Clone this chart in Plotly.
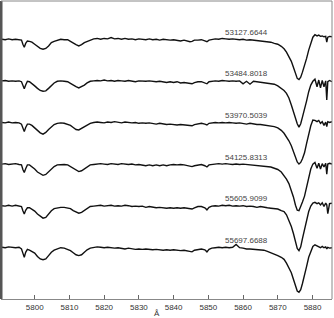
import plotly.graph_objects as go

wavelength = [
    5790.6, 5791.5, 5792.5, 5793.5, 5794.5, 5795.5, 5796.2, 5796.6, 5797.0, 5797.4,
    5797.9, 5798.5, 5799.2, 5800.0, 5800.8, 5801.6, 5802.4, 5803.2, 5804.0, 5804.8,
    5805.6, 5806.5, 5807.5, 5808.5, 5809.5, 5810.3, 5811.1, 5811.9, 5812.7, 5813.5,
    5814.3, 5815.1, 5816.0, 5817.0, 5818.0, 5819.0, 5820.0, 5821.0, 5822.0, 5823.0,
    5824.0, 5825.0, 5826.0, 5827.0, 5828.0, 5829.0, 5830.0, 5831.0, 5832.0, 5833.0,
    5834.0, 5835.0, 5836.0, 5837.0, 5838.0, 5839.0, 5840.0, 5841.0, 5842.0, 5843.0,
    5844.0, 5844.7, 5845.3, 5846.0, 5847.0, 5848.0, 5849.0, 5849.6, 5850.2, 5851.0,
    5852.0, 5853.0, 5854.0, 5855.0, 5856.0, 5857.0, 5858.0, 5859.0, 5860.0, 5861.0,
    5862.0, 5863.0, 5864.0, 5865.0, 5866.0, 5867.0, 5868.0, 5869.0, 5870.0, 5871.0,
    5871.8, 5872.5, 5873.2, 5873.9, 5874.5, 5875.1, 5875.6, 5876.1, 5876.6, 5877.1,
    5877.7, 5878.3, 5878.9, 5879.5, 5880.1, 5880.7, 5881.3, 5881.8, 5882.3, 5882.8,
    5883.3, 5883.8, 5884.1, 5884.4, 5884.9, 5885.6,
]

epochs = ["53127.6644", "53484.8018", "53970.5039", "54125.8313", "55605.9099", "55697.6688"]
offsets = [0.0, -0.1, -0.2, -0.3, -0.4, -0.5]

flux_53127 = [
    1.000, 0.999, 1.001, 0.999, 1.000, 0.999, 0.998, 0.988, 0.981, 0.990,
    0.996, 0.995, 0.993, 0.988, 0.983, 0.978, 0.976, 0.978, 0.984, 0.992,
    0.995, 0.998, 1.000, 0.999, 0.999, 0.995, 0.990, 0.987, 0.984, 0.987,
    0.992, 0.995, 0.999, 1.001, 1.002, 1.000, 1.002, 1.001, 1.004, 1.001,
    1.002, 1.000, 1.002, 1.000, 1.001, 0.999, 1.001, 1.000, 0.999, 1.001,
    0.999, 1.000, 0.998, 1.000, 0.999, 0.998, 0.999, 0.998, 0.996, 0.998,
    0.995, 0.994, 0.995, 0.998, 0.998, 0.999, 0.996, 0.994, 0.998, 1.000,
    1.001, 1.000, 1.002, 1.001, 1.000, 1.001, 1.000, 0.999, 1.000, 0.998,
    0.999, 0.998, 0.996, 0.996, 0.995, 0.994, 0.993, 0.990, 0.988, 0.983,
    0.977, 0.969, 0.959, 0.947, 0.933, 0.916, 0.906, 0.903, 0.909, 0.921,
    0.935, 0.954, 0.974, 0.990, 1.005, 1.011, 1.008, 1.010, 1.007, 1.008,
    1.006, 1.007, 0.993, 1.005, 1.007, 1.006,
]
flux_53484 = [
    1.000, 1.001, 0.999, 1.000, 0.999, 1.000, 0.998, 0.988, 0.981, 0.990,
    0.999, 0.998, 0.994, 0.988, 0.982, 0.977, 0.975, 0.976, 0.982, 0.989,
    0.995, 0.999, 1.000, 0.999, 0.998, 0.994, 0.989, 0.986, 0.983, 0.986,
    0.990, 0.995, 0.999, 1.000, 1.001, 1.000, 1.002, 1.000, 1.001, 0.999,
    1.001, 1.000, 0.999, 1.001, 1.000, 0.998, 1.000, 0.999, 0.999, 1.000,
    0.999, 0.998, 0.999, 0.998, 0.996, 0.998, 0.996, 0.998, 0.995, 0.996,
    0.995, 0.994, 0.993, 0.996, 0.998, 0.998, 0.995, 0.993, 0.998, 0.999,
    1.000, 0.999, 1.001, 1.000, 0.999, 1.000, 0.999, 1.000, 0.993, 0.999,
    0.992, 0.999, 0.998, 0.996, 0.996, 0.995, 0.994, 0.992, 0.988, 0.983,
    0.977, 0.970, 0.959, 0.942, 0.925, 0.909, 0.897, 0.889, 0.897, 0.913,
    0.930, 0.952, 0.974, 0.990, 0.999, 1.004, 0.986, 1.002, 0.983, 1.001,
    0.986, 1.000, 0.954, 0.998, 1.001, 0.998,
]
flux_53970 = [
    1.000, 0.999, 1.001, 0.999, 1.000, 0.999, 0.996, 0.986, 0.978, 0.988,
    0.996, 0.996, 0.993, 0.987, 0.981, 0.975, 0.972, 0.976, 0.983, 0.990,
    0.995, 0.998, 0.999, 0.998, 0.996, 0.993, 0.988, 0.983, 0.982, 0.986,
    0.990, 0.995, 0.998, 1.000, 1.001, 1.000, 0.999, 1.001, 1.000, 1.002,
    1.000, 0.999, 1.001, 1.000, 0.999, 1.000, 0.998, 0.999, 0.998, 0.999,
    0.998, 0.996, 0.998, 0.996, 0.995, 0.996, 0.995, 0.994, 0.995, 0.994,
    0.993, 0.993, 0.992, 0.995, 0.996, 0.998, 0.996, 0.994, 0.998, 0.999,
    1.000, 0.999, 1.000, 0.999, 1.000, 0.999, 0.998, 0.999, 0.998, 0.996,
    0.998, 0.996, 0.995, 0.995, 0.994, 0.993, 0.992, 0.990, 0.987, 0.981,
    0.974, 0.966, 0.956, 0.944, 0.930, 0.916, 0.905, 0.900, 0.904, 0.913,
    0.927, 0.950, 0.974, 0.992, 1.006, 1.005, 1.002, 1.005, 0.998, 1.002,
    0.993, 1.001, 0.990, 1.002, 1.000, 1.002,
]
flux_54125 = [
    1.000, 1.001, 0.999, 1.000, 1.001, 0.999, 0.998, 0.987, 0.980, 0.989,
    0.998, 0.998, 0.994, 0.988, 0.981, 0.976, 0.973, 0.975, 0.981, 0.988,
    0.994, 0.998, 0.999, 0.999, 0.998, 0.994, 0.989, 0.984, 0.982, 0.984,
    0.989, 0.994, 0.998, 0.999, 1.000, 1.001, 1.000, 0.999, 1.001, 1.000,
    0.999, 1.001, 1.000, 0.999, 1.000, 0.998, 0.999, 0.998, 0.996, 0.998,
    0.996, 0.998, 0.996, 0.998, 0.996, 0.998, 0.999, 0.998, 0.999, 0.998,
    0.996, 0.995, 0.994, 0.996, 0.998, 0.999, 0.996, 0.993, 0.998, 0.999,
    1.000, 1.001, 1.000, 1.001, 1.000, 0.999, 1.000, 0.999, 1.000, 0.999,
    0.998, 0.998, 0.996, 0.996, 0.995, 0.994, 0.993, 0.990, 0.987, 0.981,
    0.972, 0.964, 0.953, 0.938, 0.921, 0.901, 0.889, 0.888, 0.897, 0.909,
    0.923, 0.945, 0.968, 0.988, 1.000, 1.004, 0.990, 1.002, 0.988, 1.001,
    0.993, 1.002, 0.976, 1.000, 1.002, 1.000,
]
flux_55605 = [
    1.000, 0.999, 1.001, 0.999, 1.001, 0.999, 0.998, 0.988, 0.980, 0.989,
    0.995, 0.995, 0.992, 0.987, 0.980, 0.974, 0.970, 0.972, 0.980, 0.988,
    0.993, 0.995, 0.996, 0.996, 0.995, 0.993, 0.988, 0.984, 0.982, 0.984,
    0.989, 0.994, 0.998, 0.999, 1.000, 1.001, 0.999, 1.000, 1.001, 0.999,
    1.000, 0.999, 1.001, 1.000, 0.998, 0.999, 0.998, 0.999, 0.996, 0.998,
    0.996, 0.995, 0.996, 0.995, 0.994, 0.995, 0.994, 0.995, 0.994, 0.995,
    0.994, 0.993, 0.992, 0.995, 0.998, 0.998, 0.995, 0.990, 0.996, 0.999,
    1.000, 0.999, 1.001, 1.000, 1.001, 0.999, 1.000, 0.999, 1.000, 0.998,
    0.999, 0.998, 0.996, 0.998, 0.996, 0.995, 0.994, 0.993, 0.992, 0.988,
    0.986, 0.978, 0.965, 0.950, 0.933, 0.911, 0.897, 0.892, 0.901, 0.921,
    0.942, 0.966, 0.986, 0.999, 1.006, 1.008, 1.005, 1.007, 1.002, 1.007,
    0.998, 1.006, 1.002, 0.981, 1.005, 1.006,
]
flux_55697 = [
    1.000, 0.999, 1.001, 1.000, 0.999, 1.000, 0.996, 0.986, 0.976, 0.988,
    0.995, 0.993, 0.990, 0.986, 0.978, 0.972, 0.970, 0.972, 0.980, 0.988,
    0.993, 0.996, 0.999, 0.998, 0.995, 0.992, 0.987, 0.982, 0.980, 0.982,
    0.988, 0.994, 0.998, 1.000, 1.001, 1.000, 0.999, 1.000, 0.999, 0.998,
    0.999, 0.998, 0.996, 0.998, 0.996, 0.995, 0.996, 0.995, 0.996, 0.995,
    0.994, 0.995, 0.994, 0.993, 0.994, 0.993, 0.994, 0.993, 0.992, 0.993,
    0.992, 0.990, 0.989, 0.993, 0.995, 0.996, 0.994, 0.989, 0.995, 0.998,
    0.999, 1.000, 0.999, 1.000, 0.999, 1.000, 1.007, 0.999, 0.998, 0.996,
    0.996, 0.995, 0.995, 0.994, 0.993, 0.990, 0.987, 0.983, 0.980, 0.976,
    0.971, 0.962, 0.952, 0.939, 0.923, 0.906, 0.895, 0.892, 0.898, 0.913,
    0.931, 0.954, 0.976, 0.992, 1.002, 1.006, 1.004, 1.001, 0.999, 1.002,
    0.999, 1.001, 0.996, 1.000, 0.998, 0.999,
]

spectra = [flux_53127, flux_53484, flux_53970, flux_54125, flux_55605, flux_55697]
tick_values = [5800, 5810, 5820, 5830, 5840, 5850, 5860, 5870, 5880]
tick_labels = ["5800", "5810", "5820", "5830", "5840", "5850", "5860", "5870", "5880"]

FONT = "Liberation Sans, Arial, sans-serif"

fig = go.Figure()
for flux, off in zip(spectra, offsets):
    fig.add_trace(go.Scatter(
        x=wavelength, y=[f + off for f in flux], mode="lines",
        line=dict(color="#111111", width=1.4), showlegend=False, hoverinfo="skip",
    ))

annotations = []
for label, off in zip(epochs, offsets):
    annotations.append(dict(
        x=5854.3, y=1.0 + off + 0.017, xref="x", yref="y", text=label,
        showarrow=False, xanchor="left", yanchor="middle",
        font=dict(family=FONT, size=8, color="#444444"),
    ))
annotations.append(dict(
    x=0.471, y=-0.047, xref="paper", yref="paper", text="Å", showarrow=False,
    xanchor="center", yanchor="middle", font=dict(family=FONT, size=8, color="#333333"),
))

fig.update_layout(
    width=334, height=318,
    margin=dict(l=1, r=2, t=1, b=19),
    paper_bgcolor="white", plot_bgcolor="white",
    hovermode=False,
    annotations=annotations,
    shapes=[
        dict(type="line", xref="paper", yref="paper", x0=0, x1=0, y0=0, y1=1,
             line=dict(color="#555555", width=3)),
        dict(type="line", xref="paper", yref="paper", x0=1, x1=1, y0=0, y1=1,
             line=dict(color="#888888", width=1)),
        dict(type="line", xref="paper", yref="paper", x0=0, x1=1, y0=1, y1=1,
             line=dict(color="#888888", width=1)),
    ],
    xaxis=dict(
        range=[5790.30, 5885.61], tickvals=tick_values, ticktext=tick_labels,
        ticks="inside", ticklen=4, tickcolor="#666666", tickwidth=1,
        showline=True, linecolor="#888888", linewidth=1,
        showgrid=False, zeroline=False,
        tickfont=dict(family=FONT, size=8, color="#333333"),
    ),
    yaxis=dict(
        range=[0.3757, 1.092], showticklabels=False, ticks="",
        showgrid=False, zeroline=False, showline=False,
    ),
)

fig.write_html(
    "out.html",
    config={"displayModeBar": False, "staticPlot": True},
    post_script="document.body.style.margin='0px';document.body.style.overflow='hidden';",
)
